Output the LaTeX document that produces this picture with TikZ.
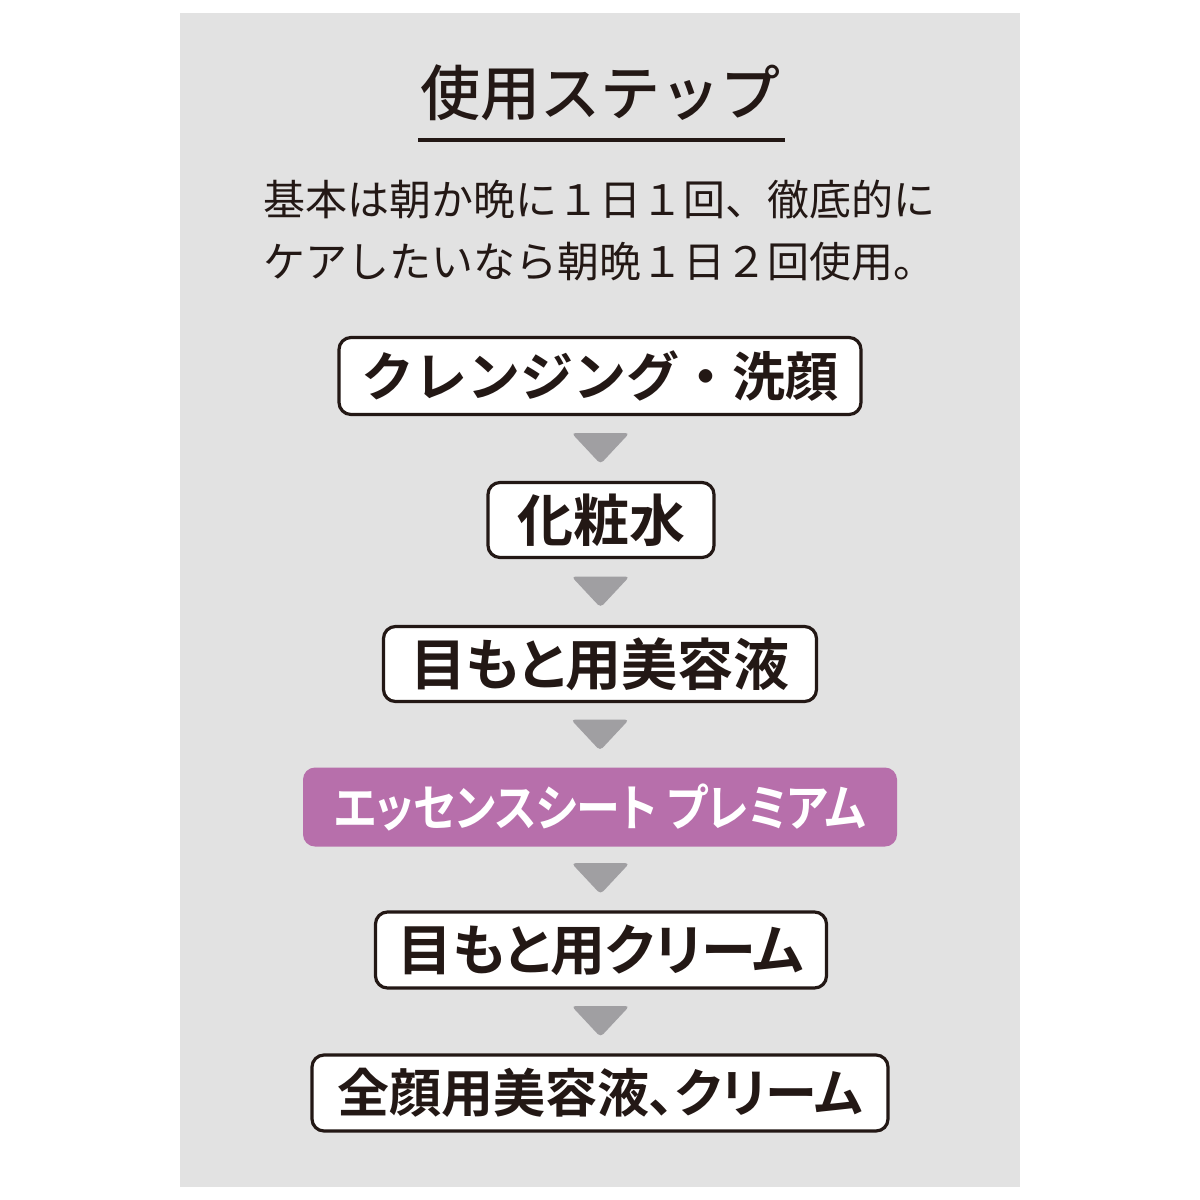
\documentclass[tikz,border=0pt]{standalone}
\usepackage{fontspec}
\setmainfont{Noto Sans CJK JP}
\newfontfamily\jpbold[RawFeature=+palt]{Noto Sans CJK JP Bold}
\newfontfamily\jpboldfw{Noto Sans CJK JP Bold}
\newfontfamily\jpboldnarrow[RawFeature=+palt, FakeStretch=0.88]{Noto Sans CJK JP Bold}
\newfontfamily\jpmed{Noto Sans CJK JP Medium}
\usetikzlibrary{calc}
\definecolor{panelgray}{HTML}{E2E2E2}
\definecolor{inkbrown}{HTML}{231815}
\definecolor{stepgray}{HTML}{A09FA2}
\definecolor{premium}{HTML}{B76FAB}
\tikzset{
  stepbox/.style={draw=inkbrown, line width=1.6pt, fill=white, rounded corners=6pt,
    inner sep=0pt, text=inkbrown},
  keybox/.style={fill=premium, rounded corners=6pt, inner sep=0pt, text=white},
  tri/.style={fill=stepgray, rounded corners=2pt},
}
\begin{document}
\begin{tikzpicture}[x=0.5pt,y=-0.5pt]
\useasboundingbox (0,0) rectangle (1200,1200);
\fill[white] (0,0) rectangle (1200,1200);
\fill[panelgray] (180,13) rectangle (1020,1187);
% title
\node[text=inkbrown, font=\jpmed\fontsize{30}{36}\selectfont, inner sep=0pt] (title) at (600,93) {使用ステップ};
\coordinate (ulL) at (418,140);
\coordinate (ulR) at (785,140);
\draw[inkbrown, line width=2pt] (ulL) -- (ulR);
% body text
\node[text=inkbrown, font=\fontsize{21}{31}\selectfont, anchor=west, align=left, inner sep=0pt] (body) at (263,231)
 {基本は朝か晩に１日１回、徹底的に\\ケアしたいなら朝晩１日２回使用。};
% steps
\node[stepbox, minimum width=261pt, minimum height=38.5pt, font=\jpboldfw\fontsize{26.5}{30}\selectfont] (s1) at (600,376) {クレンジング・洗顔};
\node[stepbox, minimum width=113pt, minimum height=37.5pt, font=\jpbold\fontsize{28}{30}\selectfont] (s2) at (601,520) {化粧水};
\node[stepbox, minimum width=216.5pt, minimum height=37.5pt, font=\jpbold\fontsize{28}{30}\selectfont] (s3) at (600,664) {目もと用美容液};
\node[keybox, minimum width=297pt, minimum height=39.5pt, font=\jpboldnarrow\fontsize{25}{30}\selectfont] (s4) at (600,807) {エッセンスシート プレミアム};
\node[stepbox, minimum width=225.5pt, minimum height=38pt, font=\jpbold\fontsize{27.5}{30}\selectfont] (s5) at (601,950) {目もと用クリーム};
\node[stepbox, minimum width=288pt, minimum height=38pt, font=\jpbold\fontsize{26}{30}\selectfont] (s6) at (600,1093) {全顔用美容液、クリーム};
% arrows
\foreach \a/\b in {s1/s2, s2/s3, s3/s4, s4/s5, s5/s6}{
  \coordinate (m\a) at ($(\a.south)!0.5!(\b.north)$);
  \fill[tri] ($(m\a)+(-29,-15.5)$) -- ($(m\a)+(29,-15.5)$) -- ($(m\a)+(0,15.5)$) -- cycle;
}
\end{tikzpicture}
\end{document}
